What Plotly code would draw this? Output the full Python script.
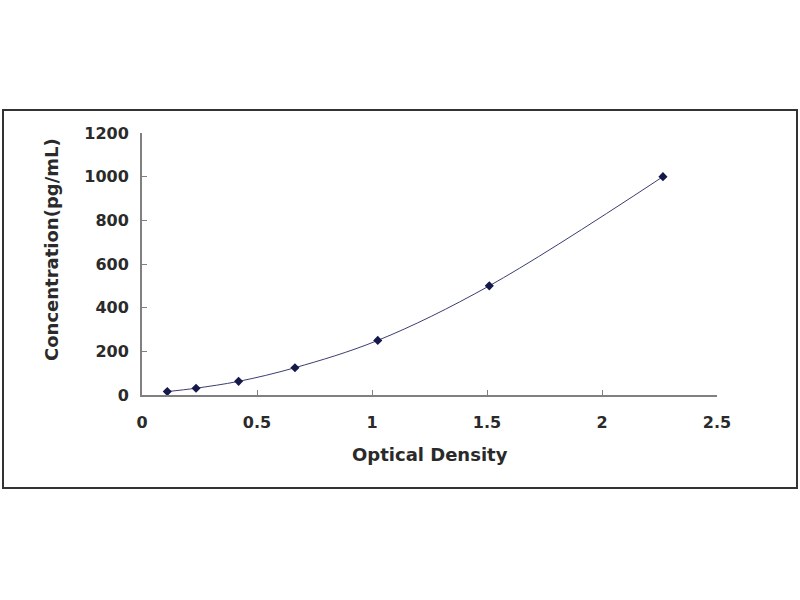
import plotly.graph_objects as go

od = [0.11, 0.235, 0.42, 0.665, 1.025, 1.51, 2.265]
conc = [15.6, 31.25, 62.5, 125, 250, 500, 1000]
x_ticks = [0, 0.5, 1, 1.5, 2, 2.5]
x_tick_text = ["0", "0.5", "1", "1.5", "2", "2.5"]
y_ticks = [0, 200, 400, 600, 800, 1000, 1200]
x_title = "Optical Density"
y_title = "Concentration(pg/mL)"

line_color = "#3a3d72"
axis_color = "#808080"
text_color = "#2a2a2a"
FONT = "DejaVu Sans, Liberation Sans, Arial, sans-serif"

fig = go.Figure()
fig.add_trace(go.Scatter(
    x=od, y=conc, mode="lines+markers",
    line=dict(color=line_color, width=1, shape="spline"),
    marker=dict(symbol="diamond", size=7, color="#15184a"),
    showlegend=False,
))

L, R, T, B = 142, 717, 133, 395
W, H = 800, 600
pw, ph = R - L, B - T

def px(v):
    return (v - L) / pw

def py(v):
    return (B - v) / ph

tickfont = dict(size=16, color=text_color, family=FONT, weight="bold")

fig.update_layout(
    width=W, height=H,
    margin=dict(l=L, r=W - R, t=T, b=H - B, pad=0),
    paper_bgcolor="white", plot_bgcolor="white",
    font=dict(family=FONT, size=16, color=text_color),
    xaxis=dict(
        range=[0, 2.5], tickvals=x_ticks, ticktext=x_tick_text,
        showline=True, linecolor=axis_color, linewidth=2,
        ticks="inside", ticklen=5, tickcolor=axis_color, tickwidth=1,
        showgrid=False, zeroline=False, tickfont=tickfont,
        ticklabelstandoff=12,
    ),
    yaxis=dict(
        range=[0, 1200], tickvals=y_ticks,
        showline=True, linecolor=axis_color, linewidth=2,
        ticks="inside", ticklen=5, tickcolor=axis_color, tickwidth=1,
        showgrid=False, zeroline=False, tickfont=tickfont,
        ticklabelstandoff=8,
    ),
    annotations=[
        dict(text="<b>%s</b>" % x_title, xref="paper", yref="paper",
             x=px(430), y=py(454), xanchor="center", yanchor="middle",
             showarrow=False, font=dict(size=18, color=text_color, family=FONT)),
        dict(text="<b>%s</b>" % y_title, xref="paper", yref="paper",
             x=px(51), y=py(250), xanchor="center", yanchor="middle", textangle=-90,
             showarrow=False, font=dict(size=18, color=text_color, family=FONT)),
    ],
    shapes=[dict(
        type="rect", xref="paper", yref="paper",
        x0=px(3), x1=px(797), y0=py(488), y1=py(110),
        line=dict(color="#333333", width=2), fillcolor="rgba(0,0,0,0)", layer="below",
    )],
)

fig.write_html("out.html", config={"displayModeBar": False},
               post_script="document.body.style.margin='0';")
